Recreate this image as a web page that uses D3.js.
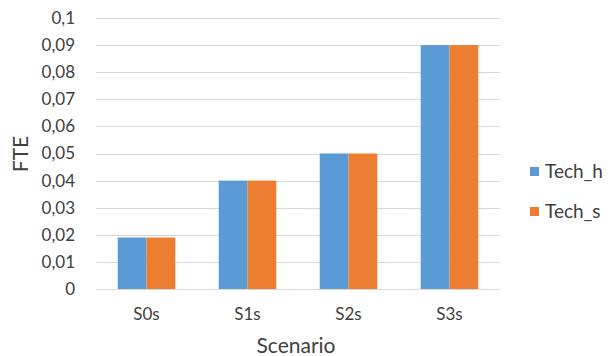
<!DOCTYPE html>
<html>
<head>
<meta charset="utf-8">
<script src="https://cdn.jsdelivr.net/npm/d3@7"></script>
<style>
  html, body { margin: 0; padding: 0; background: #fff; }
  svg { display: block; font-family: Lato, "Open Sans", sans-serif; }
</style>
</head>
<body>
<svg id="chart" width="608" height="356"></svg>
<script>
// FTE per scenario for the two technology variants
const categories = ["S0s", "S1s", "S2s", "S3s"];
const seriesNames = ["Tech_h", "Tech_s"];
const techH = [0.019, 0.04, 0.05, 0.09];
const techS = [0.019, 0.04, 0.05, 0.09];
const yTicks = [0, 0.01, 0.02, 0.03, 0.04, 0.05, 0.06, 0.07, 0.08, 0.09, 0.1];
const colors = ["#5b9bd5", "#ed7d31"];

const values = [techH, techS];
const svg = d3.select("#chart");
const plot = { left: 96, right: 500, top: 18, bottom: 289 };

const x = d3.scaleBand().domain(categories).range([plot.left, plot.right]).paddingInner(0.43).paddingOuter(0.215);
const xs = d3.scaleBand().domain(seriesNames).range([0, x.bandwidth()]);
const y = d3.scaleLinear().domain([0, 0.1]).range([plot.bottom, plot.top]);

const fmt = v => d3.format(".2~f")(v).replace(".", ",");

// gridlines
svg.append("g").selectAll("line").data(yTicks).join("line")
  .attr("x1", plot.left).attr("x2", plot.right)
  .attr("y1", d => Math.round(y(d)) + 0.5).attr("y2", d => Math.round(y(d)) + 0.5)
  .attr("stroke", "#d9d9d9").attr("stroke-width", 1);

// y axis labels
const yAxis = d3.axisLeft(y).tickValues(yTicks).tickFormat(fmt).tickSize(0).tickPadding(0);
const yg = svg.append("g").attr("transform", `translate(${plot.left - 21},0)`).call(yAxis);
yg.select(".domain").remove();
yg.selectAll("text").attr("font-size", 17).attr("fill", "#404040").attr("font-family", "Lato, sans-serif");

// bars
const groups = svg.append("g").selectAll("g").data(categories).join("g")
  .attr("transform", d => `translate(${x(d)},0)`);
groups.selectAll("rect").data((d, i) => seriesNames.map((s, j) => ({ s, v: values[j][i], j })))
  .join("rect")
  .attr("x", d => xs(d.s))
  .attr("width", xs.bandwidth())
  .attr("y", d => y(d.v))
  .attr("height", d => y(0) - y(d.v))
  .attr("fill", d => colors[d.j]);

// x axis labels
const xAxis = d3.axisBottom(x).tickSize(0).tickPadding(0);
const xg = svg.append("g").attr("transform", `translate(0,${plot.bottom + 19})`).call(xAxis);
xg.select(".domain").remove();
xg.selectAll("text").attr("font-size", 17).attr("fill", "#404040").attr("font-family", "Lato, sans-serif");

// axis titles
svg.append("text").attr("x", 296).attr("y", 353).attr("text-anchor", "middle")
  .attr("font-size", 21).attr("fill", "#404040").text("Scenario");
svg.append("text").attr("transform", "translate(28,154) rotate(-90)").attr("text-anchor", "middle")
  .attr("font-size", 21).attr("fill", "#404040").text("FTE");

// legend
const legend = svg.append("g").selectAll("g").data(seriesNames).join("g")
  .attr("transform", (d, i) => `translate(530,${167 + i * 40})`);
legend.append("rect").attr("width", 9).attr("height", 9).attr("fill", (d, i) => colors[i]);
legend.append("text").attr("x", 15).attr("y", 11).attr("font-size", 19).attr("fill", "#404040").text(d => d);
</script>
</body>
</html>
